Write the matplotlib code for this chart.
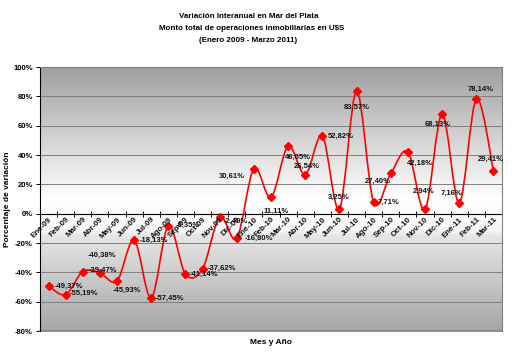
import numpy as np
import matplotlib.pyplot as plt
from matplotlib.path import Path
from matplotlib.patches import PathPatch
from matplotlib.colors import LinearSegmentedColormap

plt.rcParams['font.family'] = ['Liberation Sans Narrow', 'Liberation Sans', 'DejaVu Sans']

# monthly labels and year-on-year variation (%)
months = ['Ene-09', 'Feb-09', 'Mar-09', 'Abr-09', 'May-09', 'Jun-09', 'Jul-09', 'Ago-09', 'Sep-09',
          'Oct-09', 'Nov-09', 'Dic-09', 'Ene-10', 'Feb-10', 'Mar-10', 'Abr-10', 'May-10', 'Jun-10',
          'Jul-10', 'Ago-10', 'Sep-10', 'Oct-10', 'Nov-10', 'Dic-10', 'Ene-11', 'Feb-11', 'Mar-11']
variation = [-49.37, -55.19, -39.47, -40.38, -45.93, -18.13, -57.45, -8.35, -41.14,
             -37.62, -2.40, -16.80, 30.61, 11.11, 46.05, 26.54, 52.82, 3.25,
             83.57, 7.71, 27.40, 42.18, 2.94, 68.13, 7.16, 78.14, 29.41]
y_ticks = [-80, -60, -40, -20, 0, 20, 40, 60, 80, 100]

# label offsets in pixels (dx, dy) relative to each point
label_offsets = [(20, 0), (18, 1), (20, 1), (2, 18), (10, -9), (20, 0), (19, 0), (19, 1), (19, 0),
                 (19, 0), (16, -4), (22, 0), (-22, -8), (5, -14), (10, -11), (2, 8), (18, 0), (-1, 12),
                 (0, -16), (15, 0), (-13, -8), (12, -12), (-1, 18), (-4, -11), (-8, 10), (4, 10), (-3, 11)]

fig = plt.figure(figsize=(5.12, 3.6), dpi=100)
ax = fig.add_axes([40 / 512, 29 / 360, 462 / 512, 264 / 360])

x = np.arange(len(variation))
y = np.array(variation)
ax.set_xlim(-0.5, len(x) - 0.5)
ax.set_ylim(-80, 100)

# gradient background: gray top -> white middle -> gray bottom
cmap = LinearSegmentedColormap.from_list('bg', [
    (0.0, '#a0a0a0'), (0.5, '#ffffff'), (0.62, '#f6f6f6'), (0.64, '#e6e6e6'), (1.0, '#a6a6a6')])
grad = np.linspace(0, 1, 256).reshape(-1, 1)
ax.imshow(grad, cmap=cmap, aspect='auto', extent=(-0.5, len(x) - 0.5, -80, 100),
          origin='upper', zorder=0)

for t in y_ticks:
    ax.axhline(t, color='#7f7f7f', lw=0.7, zorder=1)

# smoothed line (Catmull-Rom bezier through the points)
pts = np.column_stack([x, y])
verts = [pts[0]]
codes = [Path.MOVETO]
for i in range(len(pts) - 1):
    p0 = pts[i - 1] if i > 0 else pts[i]
    p1 = pts[i]
    p2 = pts[i + 1]
    p3 = pts[i + 2] if i + 2 < len(pts) else pts[i + 1]
    c1 = p1 + (p2 - p0) / 6
    c2 = p2 - (p3 - p1) / 6
    verts += [c1, c2, p2]
    codes += [Path.CURVE4] * 3
ax.add_patch(PathPatch(Path(verts, codes), fill=False, edgecolor='#ff0000', lw=1.2, zorder=3))
ax.plot(x, y, linestyle='none', marker='D', ms=3.8, color='#ff0000', zorder=4)

for xi, yi, (dx, dy) in zip(x, y, label_offsets):
    ax.annotate(f'{yi:.2f}%'.replace('.', ','), (xi, yi), xytext=(dx * 0.72, dy * 0.72),
                textcoords='offset points', ha='center', va='center', fontsize=5.5,
                fontweight='bold', color='#111111', zorder=5)

# axes styling
for s in ['top', 'right']:
    ax.spines[s].set_color('#808080')
ax.spines['left'].set_color('#000000')
ax.spines['bottom'].set_position(('data', 0))
ax.spines['bottom'].set_color('#000000')
ax.spines['bottom'].set_zorder(2)

ax.set_yticks(y_ticks)
ax.set_yticklabels([f'{t}%' for t in y_ticks], fontsize=5.5, fontweight='bold')
ax.tick_params(axis='y', length=3, width=0.7, pad=2)

ax.set_xticks(np.arange(len(x) + 1) - 0.5)
ax.set_xticklabels([])
ax.tick_params(axis='x', direction='inout', length=4, width=0.7)
for xi, m in zip(x, months):
    ax.text(xi, -1.5, m, rotation=45, ha='right', va='top', rotation_mode='anchor',
            fontsize=5.7, fontweight='bold', color='#111111', zorder=5)

# frame line at bottom of the plot area
ax.plot([0, 1], [0, 0], transform=ax.transAxes, color='#808080', lw=1.2, clip_on=False)

ax.set_ylabel('Porcentaje de variación', fontsize=6, fontweight='bold')
ax.yaxis.set_label_coords(-29 / 462, 0.5)
fig.text(271 / 512, 1 - 343 / 360, 'Mes y Año', ha='center', va='center', fontsize=6, fontweight='bold')

fig.text(249 / 512, 1 - 16 / 360, 'Variación Interanual en Mar del Plata', ha='center', va='center',
         fontsize=5.8, fontweight='bold')
fig.text(252 / 512, 1 - 28.5 / 360, 'Monto total de operaciones inmobiliarias en U$S', ha='center',
         va='center', fontsize=5.8, fontweight='bold')
fig.text(248 / 512, 1 - 41 / 360, '(Enero 2009 - Marzo 2011)', ha='center', va='center',
         fontsize=5.8, fontweight='bold')

fig.savefig('out.png', dpi=100)
